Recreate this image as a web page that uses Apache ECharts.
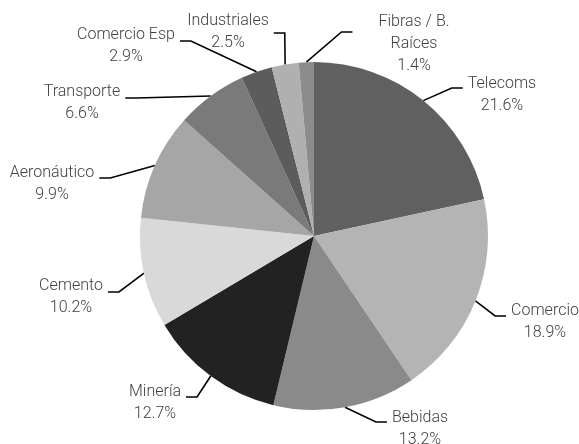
<!DOCTYPE html>
<html>
<head>
<meta charset="utf-8">
<script src="https://cdn.jsdelivr.net/npm/echarts@6/dist/echarts.min.js"></script>
<style>
  html, body { margin: 0; padding: 0; background: #fff; }
  #chart { width: 579px; height: 444px; }
</style>
</head>
<body>
<div id="chart"></div>
<script>
// Sector shares (%) — clockwise from 12 o'clock
const categories = ['Telecoms', 'Comercio', 'Bebidas', 'Minería', 'Cemento',
  'Aeronáutico', 'Transporte', 'Comercio Esp', 'Industriales', 'Fibras / B.\nRaíces'];
const shares = [21.6, 18.9, 13.2, 12.7, 10.2, 9.9, 6.6, 2.9, 2.5, 1.4];
const sliceColors = ['#606060', '#b4b4b4', '#8a8a8a', '#222222', '#d9d9d9',
  '#a6a6a6', '#7a7a7a', '#5c5c5c', '#b0b0b0', '#8c8c8c'];

// Label placement: text centre x, leader attach y, padding [top, right, bottom, left]
const labelSpots = [
  { tx: 502, ly: 88,  pad: [14, 5, 0, 5] },
  { tx: 545, ly: 316, pad: [12, 5, 0, 5] },
  { tx: 420, ly: 422, pad: [13, 5, 0, 5] },
  { tx: 155, ly: 397, pad: [11, 5, 0, 5] },
  { tx: 71,  ly: 292, pad: [10, 5, 0, 5] },
  { tx: 52,  ly: 178, pad: [12, 5, 0, 5] },
  { tx: 82,  ly: 98,  pad: [10, 5, 0, 5] },
  { tx: 126, ly: 41,  pad: [9, 5, 0, 5] },
  { tx: 228, ly: 33,  pad: [0, 5, 2, 5] },
  { tx: 414, ly: 32,  pad: [24, 5, 0, 26] }
];

const seriesData = categories.map((name, i) => ({
  name: name,
  value: shares[i],
  itemStyle: { color: sliceColors[i] },
  label: { padding: labelSpots[i].pad }
}));

const chart = echarts.init(document.getElementById('chart'), null, { renderer: 'canvas' });
chart.setOption({
  animation: false,
  backgroundColor: '#ffffff',
  series: [{
    type: 'pie',
    center: [314, 236],
    radius: 174,
    startAngle: 90,
    clockwise: true,
    avoidLabelOverlap: false,
    data: seriesData,
    itemStyle: { borderWidth: 0 },
    label: {
      show: true,
      position: 'outside',
      backgroundColor: 'rgba(255,255,255,0)',
      formatter: p => '{t|' + p.name + '}\n{t|' + p.value.toFixed(1) + '%}',
      rich: {
        t: {
          align: 'center',
          fontFamily: "Roboto, 'Liberation Sans', sans-serif",
          fontWeight: 300,
          fontSize: 16,
          lineHeight: 22,
          color: '#404040'
        }
      }
    },
    labelLine: {
      show: true,
      length: 15,
      length2: 11,
      minTurnAngle: 0,
      lineStyle: { color: '#000000', width: 1.6 }
    },
    labelLayout: function (params) {
      const s = labelSpots[params.dataIndex];
      return {
        x: s.tx + (s.pad[1] - s.pad[3]) / 2,
        y: s.ly,
        align: 'center',
        verticalAlign: 'middle'
      };
    },
    emphasis: { disabled: true }
  }]
});
</script>
</body>
</html>
